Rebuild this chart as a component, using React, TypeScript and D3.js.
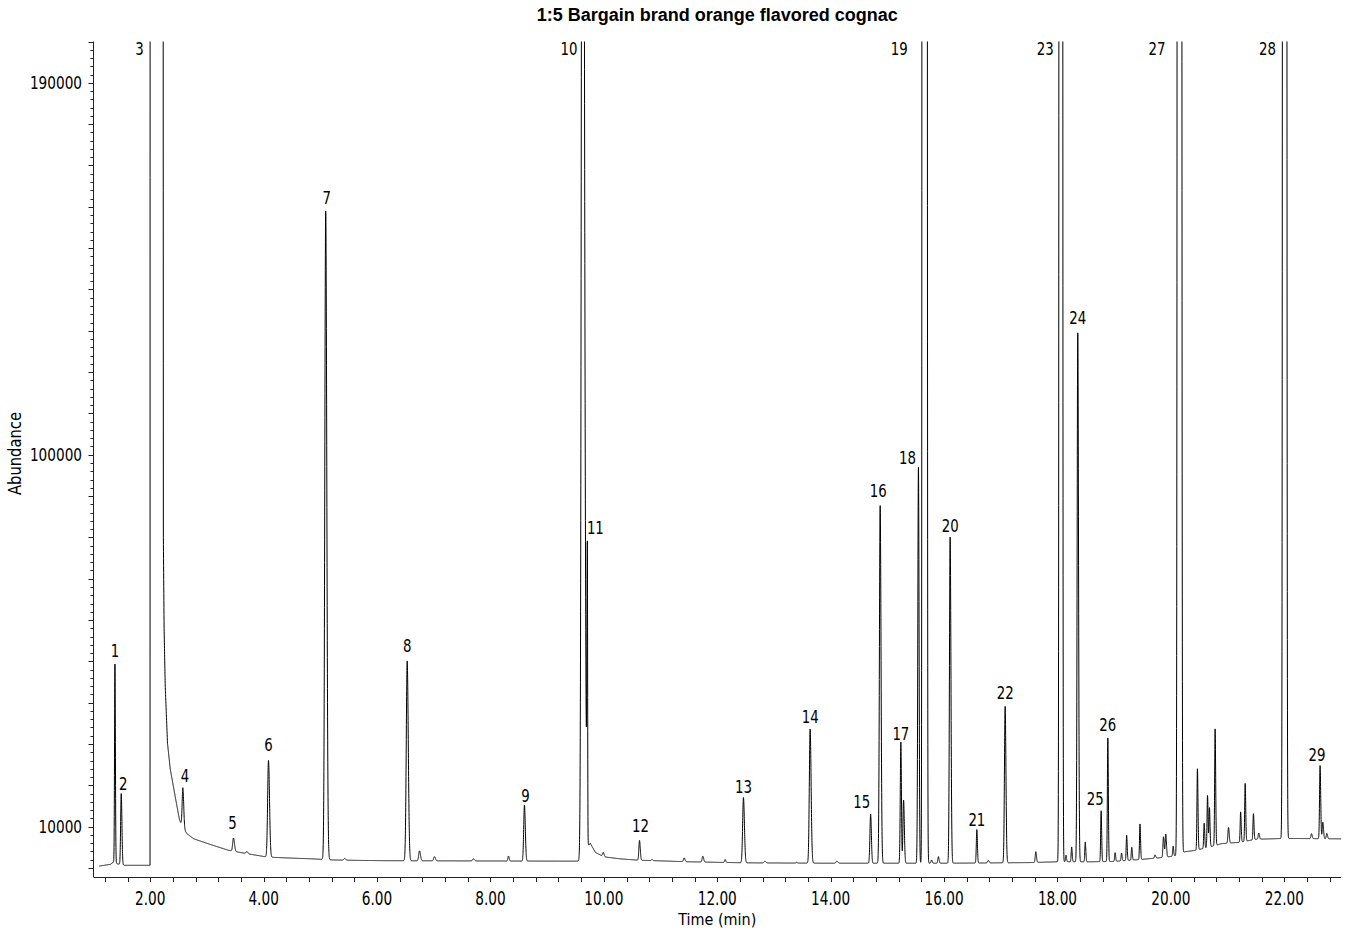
import React from 'react';
import * as d3 from 'd3';

// ---------- DATA ----------
// Backbone of the signal: baseline drift plus the overloaded solvent peak (3) and its tail
const backboneTime = [1.10, 1.30, 1.36, 1.42, 1.55, 1.997, 2.0, 2.222, 2.232, 2.245, 2.265, 2.305, 2.353, 2.441, 2.517, 2.58, 2.647, 2.763, 2.95, 3.116, 3.381, 3.705, 4.058, 4.292, 4.874, 5.227, 6.056, 8.0, 9.5, 9.66, 9.70, 9.76, 9.85, 10.0, 10.3, 10.6, 11.5, 12.5, 14.0, 16.0, 17.5, 18.0, 18.6, 19.0, 19.5, 19.9, 20.1, 20.25, 20.4, 20.6, 20.9, 21.2, 21.5, 22.0, 22.5, 23.0];
const backboneAbundance = [450, 900, 1500, 1000, 650, 650, 500000, 500000, 80000, 58000, 44000, 30200, 24000, 17270, 11620, 9700, 8310, 7100, 6200, 5450, 4280, 3470, 2660, 2500, 2200, 1940, 1770, 1700, 1650, 1800, 4500, 6000, 3800, 2700, 2200, 1900, 1500, 1250, 1150, 1150, 1300, 1500, 1500, 1600, 2100, 2600, 3000, 3950, 4200, 4800, 5900, 6200, 6950, 7150, 7100, 7050];

// Numbered peaks
const peakLabels = ['1', '2', '3', '4', '5', '6', '7', '8', '9', '10', '11', '12', '13', '14', '15', '16', '17', '18', '19', '20', '21', '22', '23', '24', '25', '26', '27', '28', '29'];
const peakTimes = [1.378, 1.489, 2.11, 2.576, 3.469, 4.086, 5.095, 6.532, 8.600, 9.625, 9.709, 10.629, 12.462, 13.638, 14.705, 14.873, 15.238, 15.548, 15.651, 16.107, 16.578, 17.077, 18.058, 18.358, 18.770, 18.888, 20.150, 22.005, 22.631];
const peakHeights = [48000, 17200, 0, 9600, 3200, 23400, 156900, 48350, 13550, 400000, 70000, 4800, 15800, 32450, 11900, 86550, 29300, 95800, 1e8, 78900, 8100, 37850, 1e7, 128000, 12300, 29900, 1e7, 1e7, 17700];
const peakSigmaL = [0.007, 0.010, 0, 0.012, 0.014, 0.015, 0.016, 0.016, 0.013, 0.018, 0.008, 0.011, 0.014, 0.014, 0.012, 0.013, 0.010, 0.011, 0.012, 0.012, 0.009, 0.012, 0.012, 0.011, 0.008, 0.008, 0.0147, 0.014, 0.009];
const peakSigmaR = [0.008, 0.012, 0, 0.015, 0.017, 0.018, 0.019, 0.019, 0.015, 0.028, 0.005, 0.013, 0.017, 0.017, 0.013, 0.015, 0.010, 0.011, 0.0156, 0.014, 0.010, 0.014, 0.013, 0.013, 0.009, 0.009, 0.0160, 0.015, 0.011];

// Small unlabeled peaks
const minorTimes = [3.705, 5.43, 6.749, 7.013, 7.70, 8.318, 9.99, 10.85, 11.416, 11.746, 12.139, 12.84, 13.40, 14.11, 15.286, 15.78, 15.90, 16.78, 17.618, 18.15, 18.25, 18.49, 19.016, 19.13, 19.22, 19.31, 19.455, 19.72, 19.87, 19.91, 20.04, 20.468, 20.587, 20.646, 20.68, 20.78, 21.016, 21.23, 21.31, 21.456, 21.55, 22.48, 22.68, 22.75];
const minorHeights = [500, 400, 2400, 1000, 500, 1200, 1000, 300, 900, 1400, 700, 400, 200, 500, 15300, 800, 1600, 600, 2600, 1600, 3600, 4800, 2100, 1900, 6100, 3100, 8600, 800, 5000, 5600, 2400, 19600, 6100, 12600, 9500, 28200, 3800, 7300, 14000, 6300, 1500, 1200, 4000, 1300];
const minorSigmas = [0.015, 0.015, 0.014, 0.014, 0.015, 0.010, 0.012, 0.010, 0.012, 0.012, 0.010, 0.015, 0.010, 0.015, 0.011, 0.010, 0.010, 0.012, 0.010, 0.008, 0.008, 0.008, 0.008, 0.008, 0.008, 0.008, 0.008, 0.010, 0.010, 0.010, 0.008, 0.008, 0.008, 0.008, 0.008, 0.008, 0.010, 0.008, 0.008, 0.008, 0.010, 0.010, 0.010, 0.010];

// Axis labels
const yTickLabels = [10000, 100000, 190000];
const titleText = '1:5 Bargain brand orange flavored cognac';
const xTitle = 'Time (min)';
const yTitle = 'Abundance';

// ---------- LAYOUT ----------
const W = 1347;
const H = 930;
const plotLeft = 93.5;
const plotRight = 1341;
const plotTop = 41.5;
const plotBottom = 877;
const tMin = 1.0;
const tMax = 23.0;
const vMin = -2180;
const vMax = 200000;
// label offsets in px (dx from peak centre, gap above apex)
const labelDx: Record<string, number> = { '2': 2, '3': -17, '4': 2, '5': -1, '7': 1, '9': 1, '10': -13.5, '11': 8, '12': 1, '15': -9, '16': -2, '18': -11, '19': -25, '23': -15.5, '25': -6, '27': -22.5, '28': -17, '29': -3 };
const labelGap: Record<string, number> = { '1': 7, '2': 4, '4': 6, '5': 9, '6': 9, '7': 7.5, '8': 8.5, '9': 3, '11': 6.5, '12': 8, '13': 4.5, '14': 6.5, '15': 6, '16': 9, '17': 2, '18': 3.5, '20': 5, '21': 4, '22': 7, '24': 8.5, '25': 5.5, '26': 6.5, '29': 5 };

const COND = "'DejaVu Sans Condensed', 'DejaVu Sans', sans-serif";

function peakValue(t: number, c: number, h: number, sl: number, sr: number) {
  if (h <= 0) return 0;
  const s = t < c ? sl : sr;
  const z = (t - c) / s;
  if (Math.abs(z) > 10) return 0;
  return h * Math.exp(-0.5 * z * z);
}

function CText(props: { x: number; y: number; size: number; sx?: number; anchor?: string; children: React.ReactNode }) {
  const { x, y, size, sx = 0.8, anchor = 'middle', children } = props;
  return (
    <text transform={`translate(${x},${y}) scale(${sx},1)`} textAnchor={anchor as any} fontFamily={COND} fontSize={size} fill="#000">{children}</text>
  );
}

export default function App() {
  const x = d3.scaleLinear().domain([tMin, tMax]).range([plotLeft, plotRight]);
  const y = d3.scaleLinear().domain([vMin, vMax]).range([plotBottom, plotTop]);
  const backbone = d3.scaleLinear().domain(backboneTime).range(backboneAbundance).clamp(true);

  const signal = (t: number) => {
    let v = backbone(t);
    for (let i = 0; i < peakTimes.length; i++) v += peakValue(t, peakTimes[i], peakHeights[i], peakSigmaL[i], peakSigmaR[i]);
    for (let i = 0; i < minorTimes.length; i++) v += peakValue(t, minorTimes[i], minorHeights[i], minorSigmas[i], minorSigmas[i] * 1.2);
    return v;
  };

  const t0 = backboneTime[0];
  const t1 = backboneTime[backboneTime.length - 1];
  const nSteps = Math.round((t1 - t0) / 0.001);
  const pts: [number, number][] = [];
  for (let i = 0; i <= nSteps; i++) {
    const t = t0 + i * 0.001;
    pts.push([t, Math.min(signal(t), 2e6)]);
  }
  const line = d3.line<[number, number]>().x(d => x(d[0])).y(d => y(d[1]));
  const path = line(pts) || '';

  const xTicks = d3.range(3, 58).map(i => +(i * 0.4).toFixed(1));
  const yTicks = d3.range(0, 101).map(i => i * 2000);
  const fmtX = d3.format('.2f');

  return (
    <svg width={W} height={H} style={{ position: 'absolute', left: 0, top: 0, background: '#fff' }}>
      <defs>
        <clipPath id="plotclip">
          <rect x={plotLeft} y={plotTop} width={plotRight - plotLeft} height={plotBottom - plotTop} />
        </clipPath>
      </defs>
      <rect x={0} y={0} width={W} height={H} fill="#fff" />
      <text x={(plotLeft + plotRight) / 2} y={21} textAnchor="middle" fontFamily="'Liberation Sans', Arial, sans-serif" fontWeight="bold" fontSize={18} fill="#000">{titleText}</text>

      <path d={path} fill="none" stroke="#000" strokeWidth={1} clipPath="url(#plotclip)" />

      {/* axes */}
      <line x1={plotLeft} x2={plotLeft} y1={plotTop} y2={plotBottom} stroke="#222" strokeWidth={1} />
      <line x1={plotLeft} x2={plotRight} y1={plotBottom + 0.5} y2={plotBottom + 0.5} stroke="#222" strokeWidth={1} />
      {yTicks.map(v => {
        const yy = Math.round(y(v)) + 0.5;
        const med = v % 10000 === 0;
        return <line key={'yt' + v} x1={plotLeft - (med ? 5 : 3)} x2={plotLeft} y1={yy} y2={yy} stroke="#222" strokeWidth={1} />;
      })}
      {yTickLabels.map(v => (
        <CText key={'yl' + v} x={82} y={y(v) + 6.5} size={18.5} sx={0.82} anchor="end">{v}</CText>
      ))}
      {xTicks.map(t => {
        const xx = Math.round(x(t)) + 0.5;
        return <line key={'xt' + t} x1={xx} x2={xx} y1={plotBottom} y2={plotBottom + 5} stroke="#222" strokeWidth={1} />;
      })}
      {xTicks.filter(t => Math.abs(t / 2 - Math.round(t / 2)) < 1e-6).map(t => (
        <CText key={'xl' + t} x={x(t)} y={904.5} size={19} sx={0.8}>{fmtX(t)}</CText>
      ))}
      <text x={(plotLeft + plotRight) / 2} y={924.5} textAnchor="middle" fontFamily={COND} fontSize={16} textLength={78} lengthAdjust="spacingAndGlyphs" fill="#000">{xTitle}</text>
      <text transform={`translate(21,453.5) rotate(-90)`} textAnchor="middle" fontFamily={COND} fontSize={17.5} textLength={83} lengthAdjust="spacingAndGlyphs" fill="#000">{yTitle}</text>

      {/* peak labels */}
      {peakLabels.map((lab, i) => {
        const t = peakTimes[i];
        const apex = signal(t);
        const dx = labelDx[lab] ?? 0;
        const cx = x(t) + dx;
        if (apex > vMax) {
          return <CText key={'pl' + lab} x={cx} y={55} size={18.5} sx={0.8}>{lab}</CText>;
        }
        const gap = labelGap[lab] ?? 6;
        return <CText key={'pl' + lab} x={cx} y={y(apex) - gap} size={18.5} sx={0.8}>{lab}</CText>;
      })}
    </svg>
  );
}
